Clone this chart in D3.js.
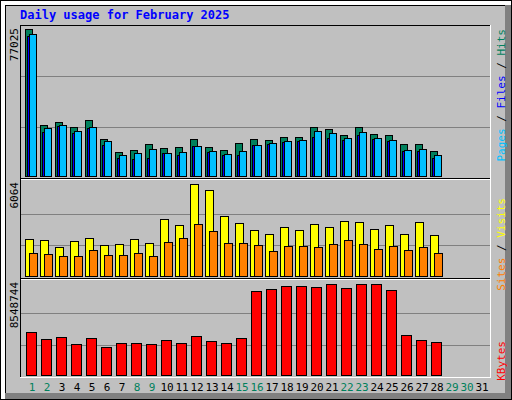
<!DOCTYPE html>
<html><head><meta charset="utf-8">
<script src="https://cdn.jsdelivr.net/npm/d3@7"></script>
<style>body{margin:0;background:#fff}svg{display:block}</style>
</head><body><svg id="c" width="512" height="400"></svg>
<script>
const days = d3.range(1, 32);
const weekendDays = [1,2,8,9,15,16,22,23,29,30];
const hits   = [77025,26720,28300,25680,29340,19390,12580,13620,16770,14670,15200,19390,15200,13620,17290,19390,18860,20440,20440,25680,24630,21480,25680,22010,21480,16770,16770,13100];
const files  = [73360,23060,26200,22530,25150,16240,9430,8910,9430,12050,11000,15720,12580,11000,11000,16240,16770,17820,18340,20440,19910,18860,21480,19390,18340,13100,13100,9430];
const pages  = [74410,25150,26720,23580,25680,18340,11000,12050,14150,12050,12580,15720,13100,11530,13100,16240,17290,18340,18860,23580,22530,19910,23060,19910,18860,13620,14150,11000];
const visits = [2426,2360,1897,2294,2492,2029,2095,2426,2161,3748,3351,6064,5665,3946,3483,3021,2756,3219,3021,3417,3219,3616,3550,3087,3351,2756,3550,2690];
const sites  = [1500,1434,1302,1302,1699,1368,1368,1500,1302,2228,2492,3417,2955,2161,2161,2029,1633,1963,1963,1897,2095,2360,2095,1765,1963,1699,1897,1500];
const kbytes = [4039500,3381900,3569800,2912200,3476900,2630400,3006100,3006100,2912200,3288000,3006100,3663700,3194000,3006100,3476900,7891100,8079000,8360800,8360800,8266900,8548744,8173000,8548744,8548744,7985100,3757700,3288000,3100100];
const title = "Daily usage for February 2025";

const svg = d3.select("#c");
const mono = "'DejaVu Sans Mono', monospace";
// frame
svg.append("rect").attr("x",0).attr("y",0).attr("width",512).attr("height",400).attr("fill","#fff");
svg.append("rect").attr("x",0.5).attr("y",0.5).attr("width",511).attr("height",399).attr("fill","none").attr("stroke","#000");
svg.append("rect").attr("x",5).attr("y",5).attr("width",500).attr("height",388).attr("fill","#c0c0c0");
svg.append("rect").attr("x",505).attr("y",5).attr("width",6).attr("height",394).attr("fill","#808080");
svg.append("rect").attr("x",5).attr("y",393).attr("width",506).attr("height",6).attr("fill","#808080");
svg.append("line").attr("x1",5).attr("y1",5.5).attr("x2",505).attr("y2",5.5).attr("stroke","#000");
svg.append("line").attr("x1",5.5).attr("y1",5).attr("x2",5.5).attr("y2",393).attr("stroke","#000");

svg.append("text").attr("x",20).attr("y",19).attr("fill","#0000ff").attr("font-family",mono)
  .attr("font-weight","bold").attr("font-size",12).text(title);

const x = d3.scaleLinear().domain([1,31]).range([25,475]);
const panels = [
  {y: d3.scaleLinear().domain([0,77025]).range([176,29]), max:77025, base:176, h:147},
  {y: d3.scaleLinear().domain([0,6064]).range([276,184.3]), max:6064, base:276, h:92},
  {y: d3.scaleLinear().domain([0,8548744]).range([375,284]), max:8548744, base:375, h:91}
];
// grid
panels.forEach(p=>{
  [1/3, 0.68].forEach(f=>{
    svg.append("line").attr("x1",21).attr("x2",490).attr("y1",Math.round(p.y(p.max*f))+0.5).attr("y2",Math.round(p.y(p.max*f))+0.5)
      .attr("stroke","#808080");
  });
});
// plot box
svg.append("line").attr("x1",20).attr("x2",491).attr("y1",25.5).attr("y2",25.5).attr("stroke","#000");
svg.append("line").attr("x1",20.5).attr("x2",20.5).attr("y1",25).attr("y2",378).attr("stroke","#000");
svg.append("line").attr("x1",490.5).attr("x2",490.5).attr("y1",25).attr("y2",378).attr("stroke","#fff");
svg.append("line").attr("x1",20).attr("x2",491).attr("y1",377.5).attr("y2",377.5).attr("stroke","#fff");
[178.5, 278.5].forEach(yy=>{
  svg.append("line").attr("x1",21).attr("x2",490).attr("y1",yy).attr("y2",yy).attr("stroke","#000");
  svg.append("line").attr("x1",21).attr("x2",490).attr("y1",yy+1).attr("y2",yy+1).attr("stroke","#fff");
});

function bars(data, p, dx, w, color){
  svg.append("g").selectAll("rect").data(data).join("rect")
    .attr("x",(d,i)=>x(i+1)+dx+0.5).attr("width",w)
    .attr("y",d=>Math.round(p.y(d))+0.5).attr("height",d=>p.base-Math.round(p.y(d)))
    .attr("fill",color).attr("stroke","#000");
}
bars(hits, panels[0], 0, 7, "#00805c");
bars(files, panels[0], 2, 6, "#0000ff");
bars(pages, panels[0], 4, 7, "#00c0ff");
bars(visits, panels[1], 0, 8, "#ffff00");
bars(sites, panels[1], 4, 8, "#ff8000");
bars(kbytes, panels[2], 1, 10, "#ff0000");

// x labels
svg.append("g").selectAll("text").data(days).join("text")
  .attr("x",d=>x(d)+7).attr("y",391).attr("text-anchor","middle")
  .attr("font-family",mono).attr("font-size",11)
  .attr("fill",d=>weekendDays.includes(d)?"#00805c":"#000").text(d=>d);

// left max labels
[[77025,28],[6064,182],[8548744,282]].forEach(([v,yy])=>{
  svg.append("text").attr("transform",`translate(18,${yy}) rotate(-90)`).attr("text-anchor","end")
    .attr("font-family",mono).attr("font-size",11).attr("fill","#000").text(v);
});
// right legends
function legend(yy, parts){
  const t = svg.append("text").attr("transform",`translate(505,${yy}) rotate(-90)`).attr("text-anchor","end")
    .attr("font-family",mono).attr("font-size",11);
  parts.forEach(([s,c])=>t.append("tspan").attr("fill",c).text(s));
}
legend(29, [["Pages","#00c0ff"],[" / ","#000"],["Files","#0000ff"],[" / ","#000"],["Hits","#00805c"]]);
legend(198, [["Sites","#ff8000"],[" / ","#000"],["Visits","#ffff00"]]);
legend(341, [["KBytes","#ff0000"]]);
</script></body></html>
